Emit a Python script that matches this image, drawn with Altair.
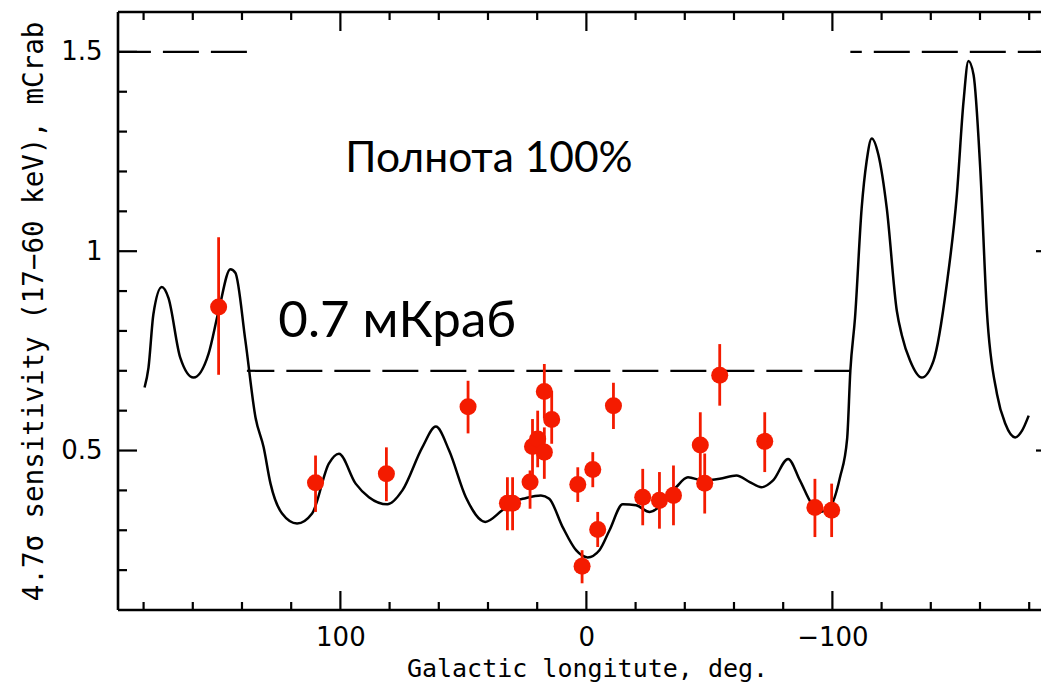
import altair as alt
import pandas as pd

# ---- sensitivity curve (Galactic longitude, deg ; sensitivity, mCrab) ----
curve_lon = [179.6, 178.0, 176.0, 172.6, 169.9, 165.1, 159.7, 153.6, 149.5, 144.7,
             142.7, 138.6, 134.5, 131.2, 128.4, 123.7, 117.6, 111.5, 104.7, 100.6,
             93.8, 88.4, 80.9, 74.8, 66.7, 61.2, 55.8, 49.0, 41.1, 34.2,
             28.6, 25.9, 18.5, 15.1, 9.65, 4.2, -0.5, -5.3, -9.4, -14.8,
             -20.2, -25.7, -31.1, -36.5, -41.3, -47.4, -54.2, -61.0, -66.4, -71.2,
             -75.9, -82.0, -86.8, -91.5, -94.9, -99.0, -103.1, -106.0, -107.3, -109.2,
             -111.9, -113.9, -116.0, -118.7, -122.1, -126.2, -128.2, -131.6, -136.3, -141.1,
             -146.5, -150.6, -153.3, -155.3, -157.4, -160.1, -162.8, -166.9, -170.3, -174.3,
             -177.1, -179.8]
curve_sens = [0.658, 0.708, 0.8425, 0.91, 0.883, 0.733, 0.683, 0.7425, 0.85, 0.955,
              0.946, 0.775, 0.583, 0.508, 0.417, 0.342, 0.317, 0.342, 0.467, 0.492,
              0.417, 0.383, 0.365, 0.40, 0.508, 0.56, 0.50, 0.383, 0.321, 0.35,
              0.375, 0.379, 0.3875, 0.379, 0.308, 0.25, 0.232, 0.25, 0.30, 0.365,
              0.3625, 0.346, 0.367, 0.408, 0.433, 0.425, 0.429, 0.4375, 0.421, 0.408,
              0.425, 0.479, 0.425, 0.367, 0.346, 0.358, 0.433, 0.53, 0.70, 0.833,
              1.108, 1.225, 1.283, 1.242, 1.108, 0.85, 0.79, 0.725, 0.683, 0.725,
              0.917, 1.142, 1.375, 1.477, 1.442, 1.208, 0.85, 0.642, 0.567, 0.533,
              0.55, 0.5875]

# ---- detected sources with error bars ----
src_lon = [149.5, 110.1, 81.3, 48.1, 32.1, 30.0, 22.9, 21.9, 19.8, 17.1,
           17.1, 14.1, 3.5, -2.6, -4.6, 1.75, -11.0, -22.9, -29.7, -35.4,
           -46.3, -48.1, -54.2, -72.5, -92.9, -99.7]
src_sens = [0.86, 0.419, 0.442, 0.61, 0.368, 0.368, 0.421, 0.51, 0.529, 0.496,
            0.648, 0.578, 0.415, 0.4525, 0.302, 0.21, 0.6125, 0.383, 0.375, 0.3875,
            0.514, 0.418, 0.689, 0.523, 0.357, 0.35]
src_lo = [0.69, 0.346, 0.373, 0.543, 0.30, 0.30, 0.354, 0.425, 0.458, 0.429,
          0.58, 0.517, 0.371, 0.408, 0.258, 0.167, 0.554, 0.3125, 0.304, 0.3125,
          0.43, 0.342, 0.6125, 0.446, 0.283, 0.283]
src_hi = [1.035, 0.4875, 0.508, 0.675, 0.433, 0.433, 0.45, 0.579, 0.60, 0.558,
          0.717, 0.65, 0.458, 0.496, 0.346, 0.25, 0.67, 0.454, 0.446, 0.4625,
          0.596, 0.4925, 0.767, 0.596, 0.429, 0.417]

# ---- dashed completeness levels ----
level_sens = [1.5, 0.7, 1.5]
level_start = [138.0, -107.3, -190.0]
level_end = [190.4, 138.0, -107.3]

# ---- annotations ----
note_text = ["Полнота 100%", "0.7 мКраб"]
note_lon = [39.6, 76.9]
note_sens = [1.198, 0.784]
note_size = [42.5, 51]

# ---- axis tick values ----
x_major = [100, 0, -100]
x_minor = [180, 160, 140, 120, 80, 60, 40, 20, -20, -40, -60, -80, -120, -140, -160, -180]
y_major = [0.5, 1.0, 1.5]
y_minor = [0.2, 0.3, 0.4, 0.6, 0.7, 0.8, 0.9, 1.1, 1.2, 1.3, 1.4]

W, H = 923, 598
LABFONT = "DejaVu Sans"
TITFONT = "DejaVu Sans Mono"

xscale = alt.Scale(domain=[-184.8, 190.4], reverse=True, nice=False, zero=False)
yscale = alt.Scale(domain=[0.1, 1.6], nice=False, zero=False)

xaxis = alt.Axis(values=x_major, format="d", ticks=False, domain=False, grid=False,
                 labelFont=LABFONT, labelFontSize=26, labelColor="black", labelPadding=14,
                 title="Galactic longitute, deg.", titleFont=TITFONT, titleFontSize=25,
                 titleFontWeight="normal", titleColor="black", titlePadding=6,
                 titleX=469)
yaxis = alt.Axis(values=y_major, format="~g", ticks=False, domain=False, grid=False,
                 labelFont=LABFONT, labelFontSize=26, labelColor="black", labelPadding=16,
                 title="4.7σ sensitivity (17−60 keV), mCrab", titleFont=TITFONT,
                 titleFontSize=27.5, titleFontWeight="normal", titleColor="black",
                 titlePadding=12)


def X(field):
    return alt.X(field, type="quantitative", scale=xscale, axis=xaxis)


def Y(field):
    return alt.Y(field, type="quantitative", scale=yscale, axis=yaxis)


curve_df = pd.DataFrame({"lon": curve_lon, "sens": curve_sens})
src_df = pd.DataFrame({"lon": src_lon, "sens": src_sens, "lo": src_lo, "hi": src_hi})
lev_df = pd.DataFrame({"sens": level_sens, "x1": level_start, "x2": level_end})
note_df = pd.DataFrame({"text": note_text, "lon": note_lon, "sens": note_sens, "size": note_size})

curve = alt.Chart(curve_df).mark_line(color="black", strokeWidth=2.5, interpolate="monotone").encode(
    x=X("lon"), y=Y("sens"))

levels = alt.Chart(lev_df).mark_rule(color="black", strokeWidth=2.2, strokeDash=[36, 12]).encode(
    x=X("x1"), x2="x2", y=Y("sens"))

errbars = alt.Chart(src_df).mark_rule(color="#f41b00", strokeWidth=2.8).encode(
    x=X("lon"), y=Y("lo"), y2="hi")

points = alt.Chart(src_df).mark_circle(color="#f41b00", opacity=1, size=290).encode(
    x=X("lon"), y=Y("sens"))

notes = alt.Chart(note_df).mark_text(font="Lato", color="black", align="center",
                                     baseline="alphabetic").encode(
    x=X("lon"), y=Y("sens"), text="text:N", size=alt.Size("size:Q", scale=None, legend=None))

# frame (left, top, bottom; the right edge falls just outside the picture)
frame_df = pd.DataFrame({"v": [0]})
frame = [
    alt.Chart(frame_df).mark_rule(color="black", strokeWidth=2.6).encode(
        x=alt.value(0), y=alt.value(0), y2=alt.value(H)),
    alt.Chart(frame_df).mark_rule(color="black", strokeWidth=2.6).encode(
        x=alt.value(0), x2=alt.value(W + 20), y=alt.value(0)),
    alt.Chart(frame_df).mark_rule(color="black", strokeWidth=2.6).encode(
        x=alt.value(0), x2=alt.value(W + 20), y=alt.value(H)),
]

# inward frame ticks
xmin_df = pd.DataFrame({"v": x_minor})
xmaj_df = pd.DataFrame({"v": x_major})
ymin_df = pd.DataFrame({"v": y_minor})
ymaj_df = pd.DataFrame({"v": y_major})

RIGHT = W + 14  # position of the (cropped) right frame edge
tick_layers = []
for df, ln in [(xmin_df, 8), (xmaj_df, 19)]:
    tick_layers.append(alt.Chart(df).mark_rule(color="black", strokeWidth=2.2).encode(
        x=X("v"), y=alt.value(H), y2=alt.value(H - ln)))
    tick_layers.append(alt.Chart(df).mark_rule(color="black", strokeWidth=2.2).encode(
        x=X("v"), y=alt.value(0), y2=alt.value(ln)))
for df, ln in [(ymin_df, 9), (ymaj_df, 19)]:
    tick_layers.append(alt.Chart(df).mark_rule(color="black", strokeWidth=2.2).encode(
        y=Y("v"), x=alt.value(0), x2=alt.value(ln)))
    tick_layers.append(alt.Chart(df).mark_rule(color="black", strokeWidth=2.2).encode(
        y=Y("v"), x=alt.value(RIGHT), x2=alt.value(RIGHT - ln)))

chart = alt.layer(*frame, *tick_layers, levels, curve, errbars, points, notes).properties(
    width=W, height=H,
    background="white",
    autosize=alt.AutoSizeParams(type="none"),
    padding={"left": 110, "top": 4, "right": 0, "bottom": 75},
).configure_view(stroke=None)

chart.save("out.html", embed_options={"renderer": "svg", "actions": False})
